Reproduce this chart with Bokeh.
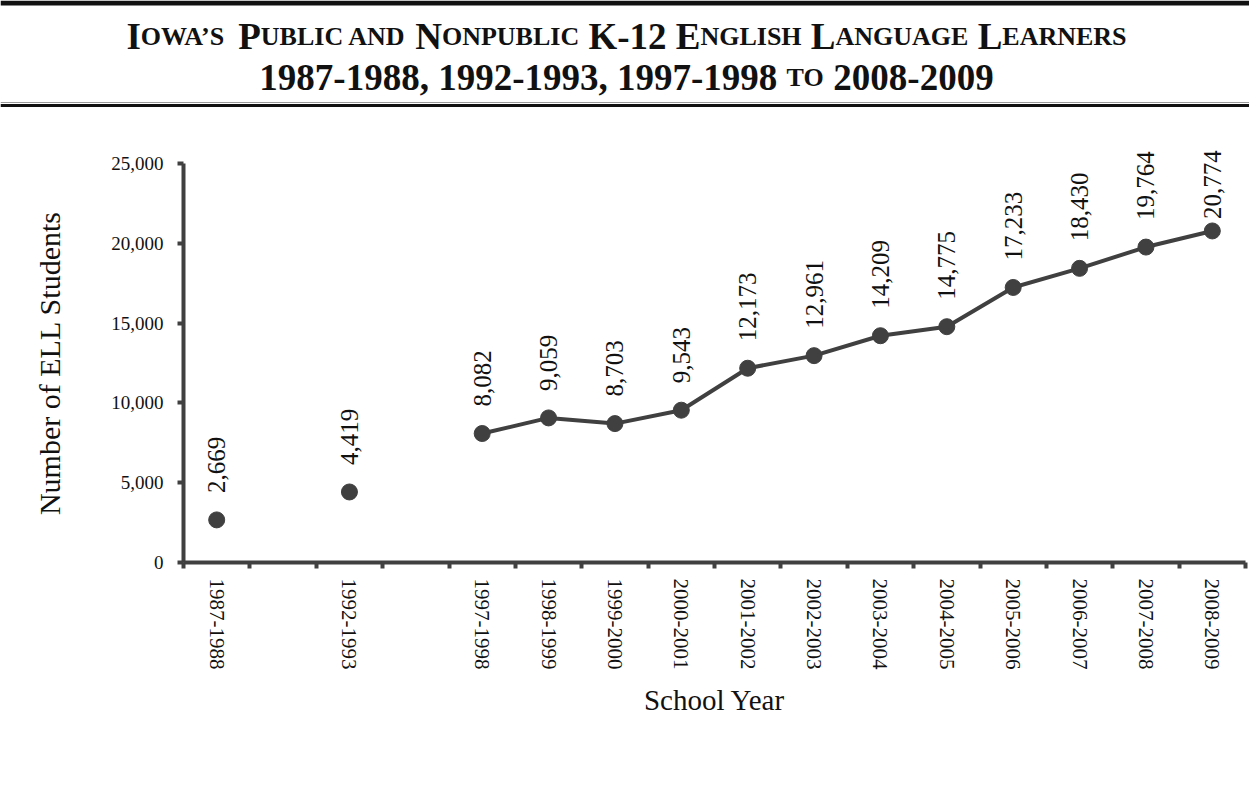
import math
from bokeh.plotting import figure
from bokeh.models import (ColumnDataSource, Range1d, FixedTicker, NumeralTickFormatter,
                          Label, LabelSet)
from bokeh.embed import file_html
from bokeh.resources import INLINE

# ---------------- data ----------------
axis_labels = ["1987-1988", " ", "1992-1993", "  ", "1997-1998", "1998-1999",
               "1999-2000", "2000-2001", "2001-2002", "2002-2003", "2003-2004",
               "2004-2005", "2005-2006", "2006-2007", "2007-2008", "2008-2009"]
school_years = ["1987-1988", "1992-1993", "1997-1998", "1998-1999", "1999-2000",
                "2000-2001", "2001-2002", "2002-2003", "2003-2004", "2004-2005",
                "2005-2006", "2006-2007", "2007-2008", "2008-2009"]
ell_students = [2669, 4419, 8082, 9059, 8703, 9543, 12173, 12961, 14209,
                14775, 17233, 18430, 19764, 20774]
y_ticks = [0, 5000, 10000, 15000, 20000, 25000]
y_max = 25000

title_line1 = [("I", "B"), ("OWA\u2019S", "S"), (" P", "B"), ("UBLIC AND", "S"),
               (" N", "B"), ("ONPUBLIC", "S"), (" K-12 E", "B"), ("NGLISH", "S"),
               (" L", "B"), ("ANGUAGE", "S"), (" L", "B"), ("EARNERS", "S")]
title_line2 = [("1987-1988, 1992-1993, 1997-1998 ", "B"), ("TO", "S"),
               (" 2008-2009", "B")]

DARK = "#404040"
TXT = "#111111"
FONT = "Liberation Serif"
W, H = 1249, 790

# pixel box of the plotting area inside the canvas
AX_L, AX_R, AX_T, AX_B = 183, 1245, 163, 562
n_slots = len(axis_labels)
PPX = (AX_R - AX_L) / n_slots          # pixels per category slot
PPY = (AX_B - AX_T) / y_max            # pixels per student


def dx(px):
    return (px - AX_L) / PPX


def dy(py):
    return (AX_B - py) / PPY


# the whole canvas is the frame; the axes sit at fixed data locations
p = figure(width=W, height=H, x_range=Range1d(dx(0), dx(W)),
           y_range=Range1d(dy(H), dy(0)), toolbar_location=None,
           output_backend="svg", min_border=0, outline_line_color=None,
           background_fill_color="white", border_fill_color="white")
p.grid.visible = False

# ---------------- title (small caps) ----------------
TB = {" ": 250, "\u2019": 333, "-": 333, ",": 250, ".": 250,
      "A": 722, "B": 667, "C": 722, "D": 722, "E": 667, "F": 611, "G": 778,
      "H": 778, "I": 389, "J": 500, "K": 778, "L": 667, "M": 944, "N": 722,
      "O": 778, "P": 611, "Q": 778, "R": 722, "S": 556, "T": 667, "U": 722,
      "V": 722, "W": 1000, "X": 722, "Y": 722, "Z": 667}
for d in "0123456789":
    TB[d] = 500
BIG, SMALL = 37, 26


def seg_width(s, size):
    return sum(TB.get(c, 500) for c in s) / 1000.0 * size


center_x = 626
for segs, base in ((title_line1, 36), (title_line2, 77)):
    sizes = [BIG if k == "B" else SMALL for s, k in segs]
    widths = [seg_width(s, sz) for (s, k), sz in zip(segs, sizes)]
    x = center_x - sum(widths) / 2.0
    for (s, k), sz, w in zip(segs, sizes, widths):
        lead = len(s) - len(s.lstrip(" "))
        p.add_layout(Label(x=dx(x + seg_width(" " * lead, sz)), y=dy(base),
                           text=s.strip(" "), text_font=FONT,
                           text_font_style="bold", text_font_size="%dpx" % sz,
                           text_align="left", text_baseline="alphabetic",
                           text_color=TXT))
        x += w

rules = [(0, 5, "#111111"), (101.5, 102.5, "#9a9a9a"), (103.5, 106.5, "#111111")]
p.quad(left=[dx(0)] * 3, right=[dx(W)] * 3, top=[dy(r[0]) for r in rules],
       bottom=[dy(r[1]) for r in rules], fill_color=[r[2] for r in rules],
       line_color=None)

# ---------------- series ----------------
slot = {lab: i for i, lab in enumerate(axis_labels)}
xs = [slot[y] + 0.5 for y in school_years]

runs, cur = [], [0]
for i in range(1, len(xs)):
    if xs[i] - xs[i - 1] == 1:
        cur.append(i)
    else:
        runs.append(cur)
        cur = [i]
runs.append(cur)
for r in runs:
    if len(r) > 1:
        p.line([xs[i] for i in r], [ell_students[i] for i in r],
               line_color=DARK, line_width=4)

p.scatter(xs, ell_students, size=16, marker="circle", fill_color=DARK,
          line_color=DARK)

offs = [27] * len(xs)
offs[-1] = 12
lsrc = ColumnDataSource(dict(x=xs, y=ell_students,
                             text=["{:,}".format(v) for v in ell_students],
                             off=offs))
p.add_layout(LabelSet(x="x", y="y", text="text", source=lsrc, angle=math.pi / 2,
                      y_offset="off", text_align="left", text_baseline="middle",
                      text_font=FONT, text_font_size="25px", text_color=TXT))

# ---------------- axes ----------------
xa = p.xaxis[0]
xa.fixed_location = 0
xa.bounds = (0, n_slots)
xa.ticker = FixedTicker(ticks=[i + 0.5 for i in range(n_slots)],
                        minor_ticks=list(range(n_slots + 1)))
xa.major_label_overrides = {i + 0.5: lab.strip() for i, lab in enumerate(axis_labels)}
xa.major_label_orientation = "vertical"
xa.major_tick_line_color = None
xa.major_tick_out = 5
xa.major_tick_in = 0
xa.minor_tick_line_color = DARK
xa.minor_tick_line_width = 4
xa.minor_tick_out = 6
xa.minor_tick_in = 0
xa.major_label_standoff = 10
xa.major_label_text_font = FONT
xa.major_label_text_font_size = "21px"
xa.major_label_text_color = TXT
xa.axis_line_color = DARK
xa.axis_line_width = 4
xa.axis_label = "School Year"
xa.axis_label_text_font = FONT
xa.axis_label_text_font_style = "normal"
xa.axis_label_text_font_size = "29px"
xa.axis_label_text_color = TXT
xa.axis_label_standoff = 12

ya = p.yaxis[0]
ya.fixed_location = 0
ya.bounds = (0, y_max)
ya.ticker = FixedTicker(ticks=y_ticks, minor_ticks=[])
ya.formatter = NumeralTickFormatter(format="0,0")
ya.major_tick_line_color = DARK
ya.major_tick_line_width = 4
ya.major_tick_out = 6
ya.major_tick_in = 0
ya.minor_tick_line_color = None
ya.major_label_standoff = 14
ya.major_label_text_font = FONT
ya.major_label_text_font_size = "19px"
ya.major_label_text_color = TXT
ya.axis_line_color = DARK
ya.axis_line_width = 4
ya.axis_label = "Number of ELL Students"
ya.axis_label_text_font = FONT
ya.axis_label_text_font_style = "normal"
ya.axis_label_text_font_size = "30px"
ya.axis_label_text_color = TXT
ya.axis_label_standoff = 42

open("out.html", "w").write(file_html(p, INLINE))
